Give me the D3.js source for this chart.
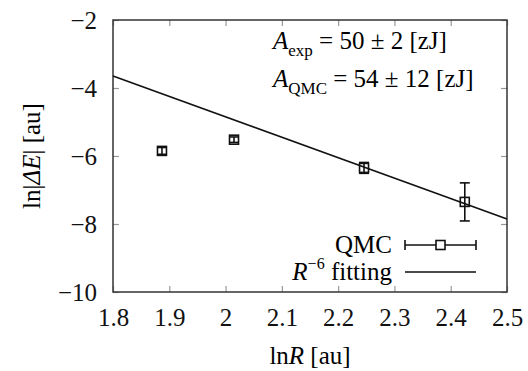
<!DOCTYPE html>
<html>
<head>
<meta charset="utf-8">
<script src="https://cdn.jsdelivr.net/npm/d3@7"></script>
<style>
  body { margin: 0; background: #fff; }
</style>
</head>
<body>
<div id="chart"></div>
<script>
// data
var lnR = [1.887, 2.015, 2.246, 2.425];
var lnE = [-5.85, -5.52, -6.35, -7.35];
var lnErr = [0.1, 0.08, 0.16, 0.56];
var fitX = [1.8, 2.5];
var fitY = [-3.65, -7.85];
var xTicks = [1.8, 1.9, 2.0, 2.1, 2.2, 2.3, 2.4, 2.5];
var yTicks = [-2, -4, -6, -8, -10];

// no serif face in the sandbox, Liberation Sans is the closest in width
var FONT = "'Liberation Serif', 'Liberation Sans', Arial, sans-serif";
var FS = "25px";
var W = 528, H = 371;
var margin = { top: 20, right: 21, bottom: 79, left: 113 };
var width = W - margin.left - margin.right,
    height = H - margin.top - margin.bottom;

var svg = d3.select("#chart").append("svg")
  .attr("width", W).attr("height", H)
  .style("font-family", FONT);
var g = svg.append("g")
  .attr("transform", "translate(" + margin.left + "," + margin.top + ")");

var x = d3.scaleLinear().domain([1.8, 2.5]).range([0, width]);
var y = d3.scaleLinear().domain([-10, -2]).range([height, 0]);

var fmtX = function (d) { return d === 2 ? "2" : d3.format(".1f")(d); };
var fmtY = function (d) { return String(d).replace("-", "\u2212"); };

// ticks on all four sides, pointing inward
function styleAxis(sel) {
  sel.attr("font-family", null);
  sel.select(".domain").remove();
  sel.selectAll(".tick line").attr("stroke", "#999").attr("stroke-width", 1.2);
  sel.selectAll(".tick text").style("font-size", FS).attr("fill", "#111");
}
g.append("g").attr("transform", "translate(0," + height + ")")
  .call(d3.axisBottom(x).tickValues(xTicks).tickFormat(fmtX).tickSizeInner(-6).tickPadding(16))
  .call(styleAxis);
g.append("g")
  .call(d3.axisTop(x).tickValues(xTicks).tickSizeInner(-6).tickFormat(""))
  .call(styleAxis);
g.append("g")
  .call(d3.axisLeft(y).tickValues(yTicks).tickFormat(fmtY).tickSizeInner(-6).tickPadding(16))
  .call(styleAxis);
g.append("g").attr("transform", "translate(" + width + ",0)")
  .call(d3.axisRight(y).tickValues(yTicks).tickSizeInner(-6).tickFormat(""))
  .call(styleAxis);

g.append("rect")
  .attr("width", width).attr("height", height)
  .attr("fill", "none").attr("stroke", "#333").attr("stroke-width", 1.5);

// fit line
g.append("path")
  .datum(fitX.map(function (d, i) { return [d, fitY[i]]; }))
  .attr("d", d3.line().x(function (d) { return x(d[0]); }).y(function (d) { return y(d[1]); }))
  .attr("fill", "none").attr("stroke", "#111").attr("stroke-width", 1.6);

// QMC points with error bars
var pts = lnR.map(function (d, i) { return { x: d, y: lnE[i], e: lnErr[i] }; });
var pg = g.selectAll(".pt").data(pts).enter().append("g").attr("class", "pt");
pg.append("line")
  .attr("x1", function (d) { return x(d.x); }).attr("x2", function (d) { return x(d.x); })
  .attr("y1", function (d) { return y(d.y + d.e); }).attr("y2", function (d) { return y(d.y - d.e); })
  .attr("stroke", "#111").attr("stroke-width", 1.6);
pg.each(function (d) {
  var s = d3.select(this);
  [d.y + d.e, d.y - d.e].forEach(function (v) {
    s.append("line")
      .attr("x1", x(d.x) - 5).attr("x2", x(d.x) + 5)
      .attr("y1", y(v)).attr("y2", y(v))
      .attr("stroke", "#111").attr("stroke-width", 1.6);
  });
});
pg.append("rect")
  .attr("x", function (d) { return x(d.x) - 4.5; })
  .attr("y", function (d) { return y(d.y) - 4.5; })
  .attr("width", 9).attr("height", 9)
  .attr("fill", "none").attr("stroke", "#111").attr("stroke-width", 1.6);

// legend
var lg = g.append("g");
var lx1 = 292, lx2 = 363, ly1 = 225, ly2 = 252;
lg.append("text").attr("x", 279).attr("y", ly1 + 8).attr("text-anchor", "end")
  .style("font-size", FS).text("QMC");
lg.append("line").attr("x1", lx1).attr("x2", lx2).attr("y1", ly1).attr("y2", ly1)
  .attr("stroke", "#111").attr("stroke-width", 1.6);
[lx1, lx2].forEach(function (v) {
  lg.append("line").attr("x1", v).attr("x2", v).attr("y1", ly1 - 5).attr("y2", ly1 + 5)
    .attr("stroke", "#111").attr("stroke-width", 1.6);
});
lg.append("rect").attr("x", (lx1 + lx2) / 2 - 4.5).attr("y", ly1 - 4.5)
  .attr("width", 9).attr("height", 9).attr("fill", "#fff")
  .attr("stroke", "#111").attr("stroke-width", 1.6);
var t2 = lg.append("text").attr("x", 279).attr("y", ly2 + 8).attr("text-anchor", "end")
  .style("font-size", FS);
t2.append("tspan").style("font-style", "italic").text("R");
t2.append("tspan").attr("dy", -11).style("font-size", "16px").text("\u22126");
t2.append("tspan").attr("dy", 11).text(" fitting");
lg.append("line").attr("x1", lx1).attr("x2", lx2).attr("y1", ly2).attr("y2", ly2)
  .attr("stroke", "#111").attr("stroke-width", 1.6);

// annotation
function ann(yPos, sub, rest) {
  var t = g.append("text").attr("x", 160).attr("y", yPos).style("font-size", FS);
  t.append("tspan").style("font-style", "italic").text("A");
  t.append("tspan").attr("dy", 7).style("font-size", "17px").text(sub);
  t.append("tspan").attr("dy", -7).text(rest);
}
ann(29, "exp", " = 50 \u00b1 2 [zJ]");
ann(67, "QMC", " = 54 \u00b1 12 [zJ]");

// axis titles
var xl = svg.append("text").attr("x", margin.left + width / 2).attr("y", 364)
  .attr("text-anchor", "middle").style("font-size", FS);
xl.append("tspan").text("ln");
xl.append("tspan").style("font-style", "italic").text("R");
xl.append("tspan").text(" [au]");

var yl = svg.append("text")
  .attr("transform", "translate(40," + (margin.top + height / 2) + ") rotate(-90)")
  .attr("text-anchor", "middle").style("font-size", FS);
yl.append("tspan").text("ln|");
yl.append("tspan").style("font-style", "italic").text("\u0394E");
yl.append("tspan").text("| [au]");
</script>
</body>
</html>
